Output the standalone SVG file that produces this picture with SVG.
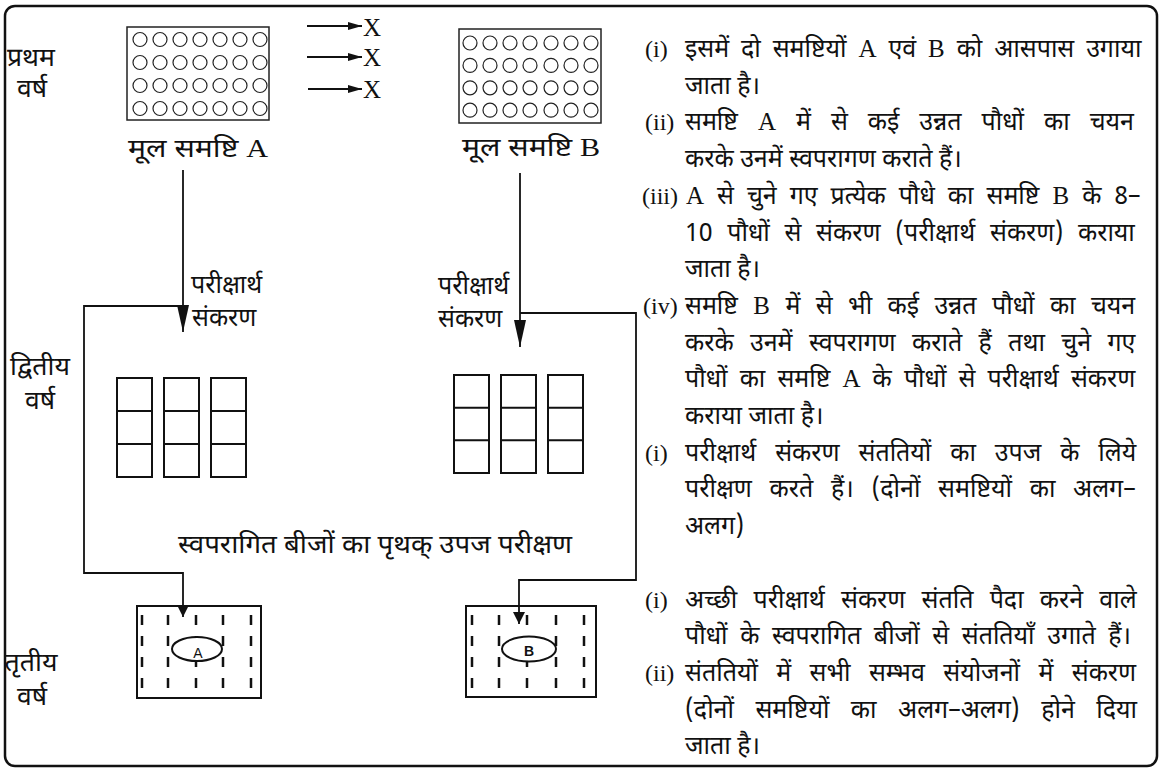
<svg xmlns="http://www.w3.org/2000/svg" width="1162" height="770" viewBox="0 0 1162 770">
<defs>
<style>
.dv{font-family:"Noto Sans Devanagari","Noto Sans","Lohit Devanagari",sans-serif;font-size:25px;fill:#111}
.lbl{font-size:26px}
.tc{font-size:25px}
.lat{font-family:"Liberation Serif",serif}
.num{font-family:"Liberation Serif",serif;font-size:24px;fill:#111}
.frame{fill:none;stroke:#111;stroke-width:2.5}
.grid{fill:none;stroke:#222;stroke-width:1.5}
.seed{fill:none;stroke:#222;stroke-width:1.2}
.box{fill:none;stroke:#111;stroke-width:2}
.plot{fill:#fff;stroke:#111;stroke-width:2}
.dash{stroke:#111;stroke-width:2.5;stroke-dasharray:10 11}
.conn{fill:none;stroke:#111;stroke-width:1.8}
.sm{font-family:"Liberation Sans",sans-serif;font-size:14px;fill:#111;text-anchor:middle}
</style>
<marker id="ahx" markerUnits="userSpaceOnUse" markerWidth="14" markerHeight="8" refX="14" refY="4" orient="auto"><path d="M0,0 L14,4 L0,8 z" fill="#111"/></marker>
<marker id="ahl" markerUnits="userSpaceOnUse" markerWidth="27" markerHeight="12" refX="27" refY="6" orient="auto"><path d="M0,0 L27,6 L0,12 z" fill="#111"/></marker>
<marker id="ahs" markerUnits="userSpaceOnUse" markerWidth="12" markerHeight="12" refX="12" refY="6" orient="auto"><path d="M0,0 L12,6 L0,12 z" fill="#111"/></marker>
</defs>
<rect width="1162" height="770" fill="#fff"/>
<rect class="frame" x="5" y="6" width="1152" height="760" rx="10"/>

<g id="year-labels" class="dv lbl" text-anchor="middle">
<text x="31" y="66" textLength="48" lengthAdjust="spacingAndGlyphs">प्रथम</text><text x="32" y="97" textLength="30" lengthAdjust="spacingAndGlyphs">वर्ष</text>
<text x="40" y="375" textLength="60" lengthAdjust="spacingAndGlyphs">द्वितीय</text><text x="40" y="409" textLength="30" lengthAdjust="spacingAndGlyphs">वर्ष</text>
<text x="31" y="671" textLength="53" lengthAdjust="spacingAndGlyphs">तृतीय</text><text x="32" y="705" textLength="30" lengthAdjust="spacingAndGlyphs">वर्ष</text>
</g>

<g id="population-A">
<rect class="grid" x="127" y="27" width="142" height="93"/>
<g class="seed">
<circle cx="140" cy="39.5" r="7"/><circle cx="160" cy="39.5" r="7"/><circle cx="180" cy="39.5" r="7"/><circle cx="200" cy="39.5" r="7"/><circle cx="220" cy="39.5" r="7"/><circle cx="240" cy="39.5" r="7"/><circle cx="260" cy="39.5" r="7"/>
<circle cx="140" cy="62.5" r="7"/><circle cx="160" cy="62.5" r="7"/><circle cx="180" cy="62.5" r="7"/><circle cx="200" cy="62.5" r="7"/><circle cx="220" cy="62.5" r="7"/><circle cx="240" cy="62.5" r="7"/><circle cx="260" cy="62.5" r="7"/>
<circle cx="140" cy="85.5" r="7"/><circle cx="160" cy="85.5" r="7"/><circle cx="180" cy="85.5" r="7"/><circle cx="200" cy="85.5" r="7"/><circle cx="220" cy="85.5" r="7"/><circle cx="240" cy="85.5" r="7"/><circle cx="260" cy="85.5" r="7"/>
<circle cx="140" cy="108.5" r="7"/><circle cx="160" cy="108.5" r="7"/><circle cx="180" cy="108.5" r="7"/><circle cx="200" cy="108.5" r="7"/><circle cx="220" cy="108.5" r="7"/><circle cx="240" cy="108.5" r="7"/><circle cx="260" cy="108.5" r="7"/>
</g>
<text class="dv lbl" x="198" y="157" text-anchor="middle" textLength="140" lengthAdjust="spacingAndGlyphs">मूल समष्टि <tspan class="lat">A</tspan></text>
</g>

<g id="population-B">
<rect class="grid" x="459" y="29" width="142" height="94"/>
<g class="seed">
<circle cx="470" cy="43" r="7"/><circle cx="490" cy="43" r="7"/><circle cx="510" cy="43" r="7"/><circle cx="530" cy="43" r="7"/><circle cx="551" cy="43" r="7"/><circle cx="571" cy="43" r="7"/><circle cx="591" cy="43" r="7"/>
<circle cx="470" cy="65.4" r="7"/><circle cx="490" cy="65.4" r="7"/><circle cx="510" cy="65.4" r="7"/><circle cx="530" cy="65.4" r="7"/><circle cx="551" cy="65.4" r="7"/><circle cx="571" cy="65.4" r="7"/><circle cx="591" cy="65.4" r="7"/>
<circle cx="470" cy="87.8" r="7"/><circle cx="490" cy="87.8" r="7"/><circle cx="510" cy="87.8" r="7"/><circle cx="530" cy="87.8" r="7"/><circle cx="551" cy="87.8" r="7"/><circle cx="571" cy="87.8" r="7"/><circle cx="591" cy="87.8" r="7"/>
<circle cx="470" cy="110.2" r="7"/><circle cx="490" cy="110.2" r="7"/><circle cx="510" cy="110.2" r="7"/><circle cx="530" cy="110.2" r="7"/><circle cx="551" cy="110.2" r="7"/><circle cx="571" cy="110.2" r="7"/><circle cx="591" cy="110.2" r="7"/>
</g>
<text class="dv lbl" x="531" y="156" text-anchor="middle" textLength="138" lengthAdjust="spacingAndGlyphs">मूल समष्टि <tspan class="lat">B</tspan></text>
</g>

<g id="selfing-X">
<text class="lat" x="363" y="36" font-size="25" fill="#111">X</text>
<text class="lat" x="363" y="66" font-size="25" fill="#111">X</text>
<text class="lat" x="363" y="98" font-size="25" fill="#111">X</text>
</g>

<g id="testcross-labels" class="dv tc">
<text x="191" y="293">परीक्षार्थ</text><text x="192" y="326">संकरण</text>
<text x="438" y="294">परीक्षार्थ</text><text x="438" y="327">संकरण</text>
</g>

<g id="testcross-A">
<rect class="box" x="117" y="378" width="35" height="99"/><line class="box" x1="117" y1="411" x2="152" y2="411"/><line class="box" x1="117" y1="444" x2="152" y2="444"/>
<rect class="box" x="164" y="378" width="35" height="99"/><line class="box" x1="164" y1="411" x2="199" y2="411"/><line class="box" x1="164" y1="444" x2="199" y2="444"/>
<rect class="box" x="211" y="378" width="35" height="99"/><line class="box" x1="211" y1="411" x2="246" y2="411"/><line class="box" x1="211" y1="444" x2="246" y2="444"/>
</g>
<g id="testcross-B">
<rect class="box" x="454" y="375" width="35" height="98"/><line class="box" x1="454" y1="407.7" x2="489" y2="407.7"/><line class="box" x1="454" y1="440.3" x2="489" y2="440.3"/>
<rect class="box" x="501" y="375" width="35" height="98"/><line class="box" x1="501" y1="407.7" x2="536" y2="407.7"/><line class="box" x1="501" y1="440.3" x2="536" y2="440.3"/>
<rect class="box" x="548" y="375" width="35" height="98"/><line class="box" x1="548" y1="407.7" x2="583" y2="407.7"/><line class="box" x1="548" y1="440.3" x2="583" y2="440.3"/>
</g>

<g id="yield-test-label">
<text class="dv lbl" x="178" y="553" textLength="394" lengthAdjust="spacingAndGlyphs">स्वपरागित बीजों का पृथक् उपज परीक्षण</text>
</g>

<g id="plot-A">
<rect class="box" x="137" y="606" width="124" height="92"/>
<line class="dash" x1="142" y1="615" x2="142" y2="690"/><line class="dash" x1="168" y1="615" x2="168" y2="690"/><line class="dash" x1="196" y1="615" x2="196" y2="690"/><line class="dash" x1="223" y1="615" x2="223" y2="690"/><line class="dash" x1="251" y1="615" x2="251" y2="690"/>
<ellipse class="plot" cx="197" cy="649" rx="25" ry="12"/>
<text class="sm" x="198" y="658">A</text>
</g>
<g id="plot-B">
<rect class="box" x="466" y="606" width="130" height="91" stroke-width="3"/>
<line class="dash" x1="472" y1="615" x2="472" y2="690"/><line class="dash" x1="499" y1="615" x2="499" y2="690"/><line class="dash" x1="527" y1="615" x2="527" y2="690"/><line class="dash" x1="556" y1="615" x2="556" y2="690"/><line class="dash" x1="584" y1="615" x2="584" y2="690"/>
<ellipse class="plot" cx="529" cy="649" rx="27" ry="12.5"/>
<text class="sm" x="529" y="656" font-weight="bold" font-size="13">B</text>
</g>

<g id="connectors" class="conn">
<line x1="307" y1="26" x2="362" y2="26" marker-end="url(#ahx)"/>
<line x1="307" y1="57" x2="362" y2="57" marker-end="url(#ahx)"/>
<line x1="308" y1="89" x2="362" y2="89" marker-end="url(#ahx)"/>
<line x1="183" y1="170" x2="183" y2="332" marker-end="url(#ahl)"/>
<line x1="520" y1="173" x2="520" y2="347" marker-end="url(#ahl)"/>
<path d="M183,306 H84 V573 H183 V617" marker-end="url(#ahs)"/>
<path d="M520,313 H636 V580 H519 V624" marker-end="url(#ahs)"/>
</g>

<g id="notes">
<text class="num" x="645" y="57">(i)</text>
<text class="dv" x="685" y="57" style="word-spacing:5.4px">इसमें दो समष्टियों <tspan class="lat">A</tspan> एवं <tspan class="lat">B</tspan> को आसपास उगाया</text>
<text class="dv" x="685" y="93.7">जाता है।</text>
<text class="num" x="645" y="130.4">(ii)</text>
<text class="dv" x="685" y="130.4" style="word-spacing:13.5px">समष्टि <tspan class="lat">A</tspan> में से कई उन्नत पौधों का चयन</text>
<text class="dv" x="685" y="167.1">करके उनमें स्वपरागण कराते हैं।</text>
<text class="num" x="642" y="203.8">(iii)</text>
<text class="dv" x="686" y="203.8" style="word-spacing:6.5px"><tspan class="lat">A</tspan> से चुने गए प्रत्येक पौधे का समष्टि <tspan class="lat">B</tspan> के 8–</text>
<text class="dv" x="685" y="240.5" style="word-spacing:8.2px">10 पौधों से संकरण (परीक्षार्थ संकरण) कराया</text>
<text class="dv" x="685" y="277.2">जाता है।</text>
<text class="num" x="643" y="313.9">(iv)</text>
<text class="dv" x="685" y="313.9" style="word-spacing:8.9px">समष्टि <tspan class="lat">B</tspan> में से भी कई उन्नत पौधों का चयन</text>
<text class="dv" x="685" y="350.6" style="word-spacing:9.9px">करके उनमें स्वपरागण कराते हैं तथा चुने गए</text>
<text class="dv" x="685" y="387.3" style="word-spacing:5.6px">पौधों का समष्टि <tspan class="lat">A</tspan> के पौधों से परीक्षार्थ संकरण</text>
<text class="dv" x="685" y="424">कराया जाता है।</text>
<text class="num" x="645" y="460.7">(i)</text>
<text class="dv" x="685" y="460.7" style="word-spacing:12.4px">परीक्षार्थ संकरण संततियों का उपज के लिये</text>
<text class="dv" x="685" y="497.4" style="word-spacing:11.2px">परीक्षण करते हैं। (दोनों समष्टियों का अलग–</text>
<text class="dv" x="685" y="534.1">अलग)</text>
<text class="num" x="645" y="607.5">(i)</text>
<text class="dv" x="685" y="607.5" style="word-spacing:9.7px">अच्छी परीक्षार्थ संकरण संतति पैदा करने वाले</text>
<text class="dv" x="685" y="644.2" style="word-spacing:6.1px">पौधों के स्वपरागित बीजों से संततियाँ उगाते हैं।</text>
<text class="num" x="645" y="680.9">(ii)</text>
<text class="dv" x="685" y="680.9" style="word-spacing:11.9px">संततियों में सभी सम्भव संयोजनों में संकरण</text>
<text class="dv" x="685" y="717.6" style="word-spacing:15px">(दोनों समष्टियों का अलग–अलग) होने दिया</text>
<text class="dv" x="685" y="754.3">जाता है।</text>
</g>
</svg>
